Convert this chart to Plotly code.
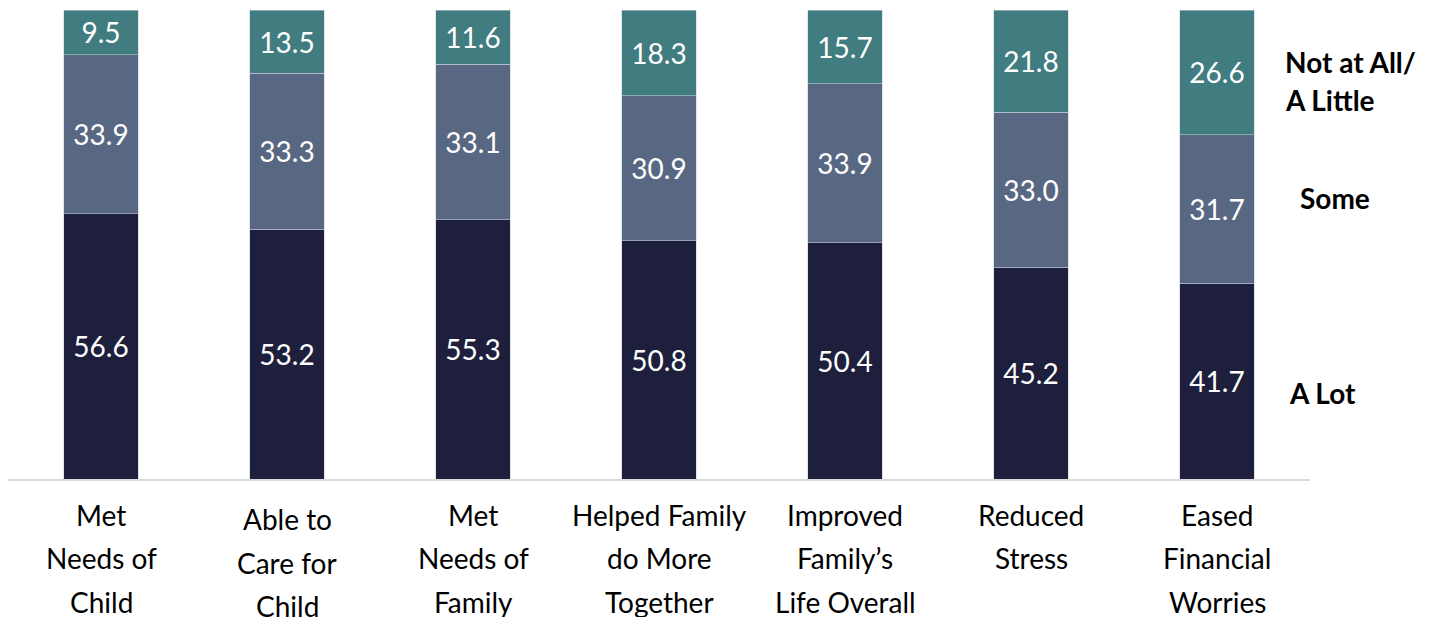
import plotly.graph_objects as go

# Survey results: share of respondents (%) by how much the program helped
categories = [
    "Met Needs of Child",
    "Able to Care for Child",
    "Met Needs of Family",
    "Helped Family do More Together",
    "Improved Family’s Life Overall",
    "Reduced Stress",
    "Eased Financial Worries",
]
category_lines = [
    ["Met", "Needs of", "Child"],
    ["Able to", "Care for", "Child"],
    ["Met", "Needs of", "Family"],
    ["Helped Family", "do More", "Together"],
    ["Improved", "Family’s", "Life Overall"],
    ["Reduced", "Stress"],
    ["Eased", "Financial", "Worries"],
]
a_lot = [56.6, 53.2, 55.3, 50.8, 50.4, 45.2, 41.7]
some = [33.9, 33.3, 33.1, 30.9, 33.9, 33.0, 31.7]
not_at_all = [9.5, 13.5, 11.6, 18.3, 15.7, 21.8, 26.6]

series = [
    ("A Lot", a_lot, "#1E1F3D"),
    ("Some", some, "#596882"),
    ("Not at All/ A Little", not_at_all, "#407C80"),
]

FONT = "Lato, Carlito, Calibri, sans-serif"
W, H = 1433, 617
ML, MR, MT, MB = 8, W - 1310, 10, H - 479
plot_h = H - MT - MB
plot_w = W - ML - MR

fig = go.Figure()
for name, vals, color in series:
    fig.add_trace(go.Bar(
        x=categories,
        y=vals,
        name=name,
        marker=dict(color=color, line=dict(color="rgba(200,210,220,0.55)", width=1)),
        text=[f"{v:.1f}" for v in vals],
        textposition="inside",
        insidetextanchor="middle",
        textangle=0,
        constraintext="none",
        textfont=dict(family=FONT, size=28, color="white"),
        hoverinfo="skip",
    ))

# Category labels, one annotation per line under each bar
annotations = []
line_step = 43.5
for cat, lines in zip(categories, category_lines):
    first = 519 if cat.startswith("Able") else 514.5
    for i, txt in enumerate(lines):
        py = first + i * line_step
        annotations.append(dict(
            x=cat, xref="x", y=(479 - py) / plot_h, yref="paper",
            text=txt, showarrow=False, xanchor="center", yanchor="middle",
            font=dict(family=FONT, size=28, color="black"),
        ))

# Series labels to the right of the last bar
side_labels = [
    ("Not at All/", 1283, 62, "left"),
    ("A Little", 1283, 100, "left"),
    ("Some", 1335, 198, "center"),
    ("A Lot", 1322, 393, "center"),
]
for txt, px, py, anchor in side_labels:
    annotations.append(dict(
        x=(px - ML) / plot_w, xref="paper", y=(479 - py) / plot_h, yref="paper",
        text=f"<b>{txt}</b>", showarrow=False, xanchor=anchor, yanchor="middle",
        font=dict(family=FONT, size=28, color="black"),
    ))

fig.update_layout(
    barmode="stack",
    bargap=0.6,
    width=W, height=H,
    margin=dict(l=ML, r=MR, t=MT, b=MB, pad=0),
    paper_bgcolor="white",
    plot_bgcolor="white",
    showlegend=False,
    annotations=annotations,
    xaxis=dict(showticklabels=False, showline=True, linecolor="#D9D9D9",
               linewidth=2, ticks="", showgrid=False, zeroline=False,
               fixedrange=True),
    yaxis=dict(range=[0, 100], visible=False, showgrid=False, zeroline=False,
               fixedrange=True),
)

fig.write_html("out.html")
